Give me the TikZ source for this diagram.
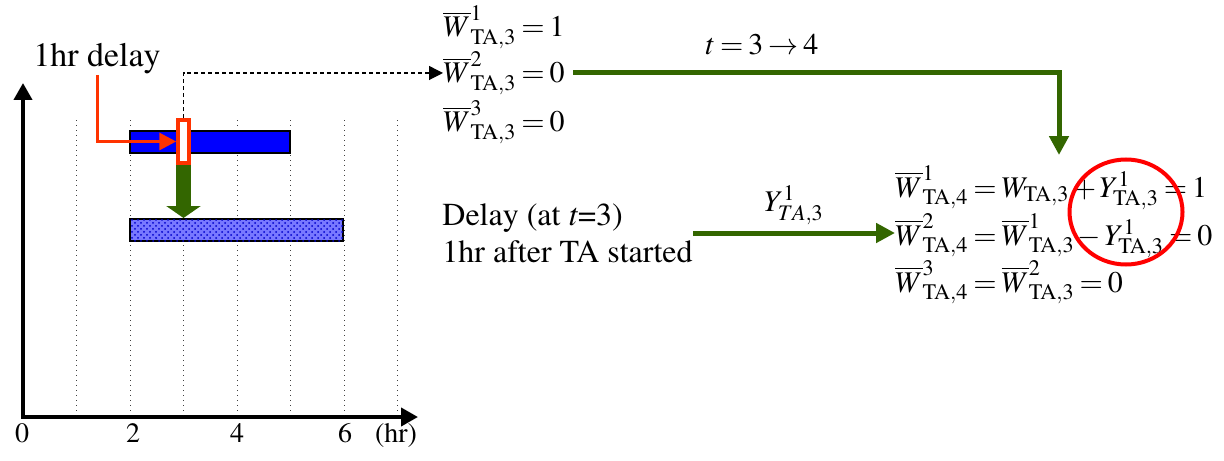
\documentclass[tikz,border=0pt]{standalone}
\usepackage[T1]{fontenc}
\usepackage{mathptmx}
\usetikzlibrary{arrows.meta,shapes.geometric,patterns}
\definecolor{flowgreen}{RGB}{51,102,0}
\definecolor{markred}{RGB}{255,51,0}
\definecolor{shiftblue}{RGB}{120,120,255}
\thickmuskip=3mu plus 2mu
\medmuskip=2mu plus 1mu

\begin{document}
\begin{tikzpicture}[x=0.5pt,y=-0.5pt]
\tikzset{
  txt/.style={inner sep=0pt,font=\fontsize{16}{18.5}\selectfont},
  eqn/.style={inner sep=0pt,anchor=base west,font=\fontsize{15}{18}\selectfont},
  ticklbl/.style={inner sep=0pt,anchor=base,font=\fontsize{14}{16}\selectfont},
  axisline/.style={draw=black,line width=2pt,{Triangle[length=8.5pt,width=9pt]}-{Triangle[length=8.5pt,width=9pt]}},
  gridline/.style={draw=black!75,line width=0.5pt,dotted},
  taskbar/.style={draw=black,line width=1pt,inner sep=0pt,minimum height=11pt},
  markbox/.style={draw=markred,fill=white,line width=1.75pt,inner sep=0pt,minimum width=5.5pt,minimum height=21.5pt},
  delayarrow/.style={draw=markred,line width=1.5pt,-{Triangle[length=8.5pt,width=8.5pt]}},
  linkdash/.style={draw=black,line width=0.6pt,dash pattern=on 2pt off 1.5pt,-{Triangle[length=7pt,width=7pt]}},
  fatarrow/.style={draw=flowgreen,line width=7.5pt,-{Triangle[length=6pt,width=17pt]}},
  greenflow/.style={draw=flowgreen,line width=2.5pt,-{Triangle[length=9.5pt,width=9.5pt]}}
}
\useasboundingbox (0,0) rectangle (1224,460);
% time axis
\coordinate (orig) at (23,417);
\coordinate (ytip) at (23,83);
\coordinate (xtip) at (418,417);
\draw[gridline] (76.5,120) -- (76.5,417);
\draw[gridline] (130,120) -- (130,417);
\draw[gridline] (183.5,120) -- (183.5,417);
\draw[gridline] (237,120) -- (237,417);
\draw[gridline] (290.5,120) -- (290.5,417);
\draw[gridline] (344,120) -- (344,417);
\draw[gridline] (397.5,120) -- (397.5,417);
\draw[axisline] (ytip) -- (orig) -- (xtip);
\node[ticklbl] (t0) at (22,442) {0};
\node[ticklbl] (t2) at (133,442) {2};
\node[ticklbl] (t4) at (237,442) {4};
\node[ticklbl] (t6) at (345,442) {6};
\node[ticklbl] (thr) at (396,442) {(hr)};
% task bars
\node[taskbar,fill=blue,minimum width=80pt] (bar1) at (210,142) {};
\node[taskbar,fill=shiftblue,postaction={pattern=crosshatch dots,pattern color=blue!80!black},minimum width=106.5pt] (bar2) at (236.5,230) {};
\node[markbox] (redbox) at (183.5,141.5) {};
\node[txt,anchor=base,font=\fontsize{17}{20}\selectfont] (dlbl) at (97,67) {1hr delay};
\draw[delayarrow] (dlbl.south) |- (redbox.west);
\draw[fatarrow] (redbox.south) -- (redbox.south |- bar2.north);
% state before
\node[eqn] (eqtopA) at (443,37) {$\overline{W}^{1}_{\mathrm{TA},3}=1$};
\node[eqn] (eqtopB) at (443,83) {$\overline{W}^{2}_{\mathrm{TA},3}=0$};
\node[eqn] (eqtopC) at (443,132) {$\overline{W}^{3}_{\mathrm{TA},3}=0$};
\draw[linkdash] (redbox.north) |- (eqtopB.west);
\node[eqn,anchor=base] (steplbl) at (762,55) {$t=3\rightarrow4$};
% state after
\node[eqn] (eqbotA) at (895,197) {$\overline{W}^{1}_{\mathrm{TA},4}=W_{\mathrm{TA},3}+Y^{1}_{\mathrm{TA},3}=1$};
\node[eqn] (eqbotB) at (895,245) {$\overline{W}^{2}_{\mathrm{TA},4}=\overline{W}^{1}_{\mathrm{TA},3}-Y^{1}_{\mathrm{TA},3}=0$};
\node[eqn] (eqbotC) at (895,292) {$\overline{W}^{3}_{\mathrm{TA},4}=\overline{W}^{2}_{\mathrm{TA},3}=0$};
\coordinate (wtip) at (1059,155);
\draw[greenflow,shorten <=4pt] (eqtopB.east) -| (wtip);
\node[txt,align=left,anchor=west] (delaytxt) at (442,233) {Delay (at \textit{t}=3)\\1hr after TA started};
\draw[greenflow] (delaytxt.east) -- (delaytxt.east -| eqbotB.west)
  node[midway,above=3pt,eqn,anchor=south] {$Y^{1}_{TA,3}$};
\node[draw=red,ellipse,line width=2pt,inner sep=0pt,minimum width=56.5pt,minimum height=52.5pt] (ycirc) at (1126,212) {};
\end{tikzpicture}
\end{document}
